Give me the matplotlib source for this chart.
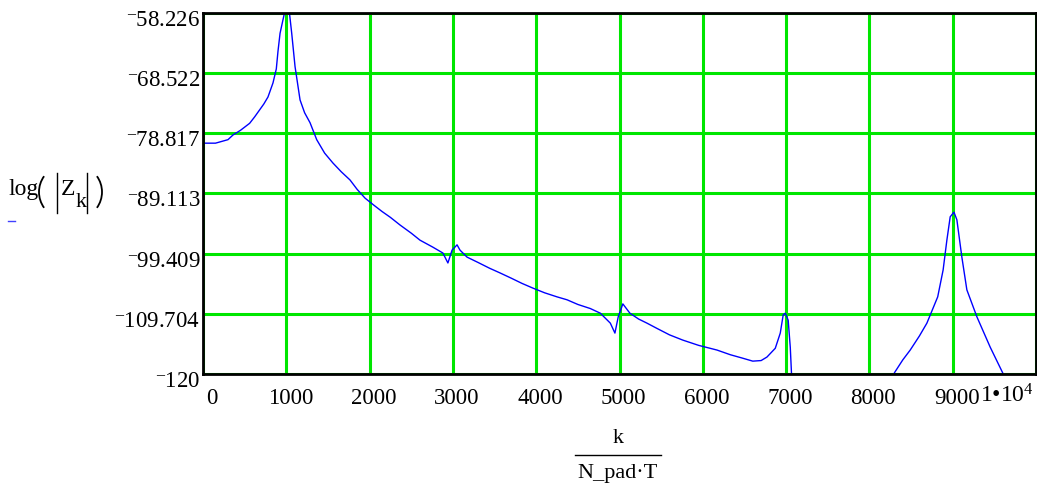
import matplotlib
matplotlib.use('Agg')
import matplotlib.pyplot as plt
from matplotlib.transforms import ScaledTranslation
from matplotlib.lines import Line2D
from matplotlib.patches import Arc

plt.rcParams['font.family'] = ['Liberation Serif', 'DejaVu Serif']
plt.rcParams['mathtext.fontset'] = 'custom'
plt.rcParams['mathtext.rm'] = 'Liberation Serif'
plt.rcParams['mathtext.it'] = 'Liberation Serif:italic'

# spectrum (frequency, log magnitude)
freq = [0, 150, 200, 300, 360, 450, 560, 620, 680, 730, 780, 840, 880, 900, 925,
        960, 985, 1010, 1040, 1065, 1105, 1165, 1220, 1285, 1365, 1460, 1560,
        1660, 1765, 1850, 1945, 2050, 2150, 2250, 2365, 2500, 2605, 2760, 2880,
        2940, 2990, 3050, 3085, 3170, 3300, 3440, 3565, 3700, 3830, 3960, 4100,
        4250, 4370, 4500, 4650, 4770, 4890, 4945, 4985, 5040, 5125, 5230, 5330,
        5450, 5600, 5760, 5950, 6170, 6330, 6480, 6600, 6700, 6770, 6870, 6930,
        6965, 6990, 7025, 7050, 7075, 8290, 8300, 8400, 8490, 8600, 8690, 8820,
        8885, 8930, 8970, 9015, 9050, 9110, 9170, 9290, 9450, 9600, 9650]
mag = [-80.5, -80.5, -80.3, -79.9, -79.1, -78.3, -77.1, -76.0, -74.8, -73.8,
       -72.6, -70.2, -67.8, -64.8, -61.7, -59.4, -57.8, -57.6, -58.5, -61.7,
       -67.4, -73.1, -75.3, -77.0, -79.9, -82.2, -83.9, -85.4, -86.8, -88.4,
       -89.9, -91.1, -92.2, -93.2, -94.5, -95.9, -97.1, -98.3, -99.3, -101.0,
       -98.8, -97.9, -98.8, -100.0, -100.9, -101.9, -102.7, -103.6, -104.5,
       -105.3, -106.1, -106.8, -107.3, -108.1, -108.8, -109.6, -111.3, -113.0,
       -110.2, -108.0, -109.6, -110.6, -111.3, -112.2, -113.3, -114.2, -115.1,
       -115.9, -116.7, -117.3, -117.8, -117.7, -117.1, -115.6, -113.0, -109.9,
       -109.6, -110.8, -115.4, -123, -123, -119.8, -117.6, -115.9, -113.5,
       -111.3, -106.8, -102.2, -97.1, -93.1, -92.3, -93.6, -100.0, -105.6,
       -110.2, -115.4, -119.8, -123]

yticks = [-120, -109.704, -99.409, -89.113, -78.817, -68.522, -58.226]
ytick_labels = ['120', '109.704', '99.409', '89.113', '78.817', '68.522', '58.226']
xticks = [0, 1000, 2000, 3000, 4000, 5000, 6000, 7000, 8000, 9000, 10000]
xtick_labels = ['0', '1000', '2000', '3000', '4000', '5000', '6000', '7000',
                '8000', '9000', '1\u202210$^{4}$']

fig = plt.figure(figsize=(10.37, 4.86), dpi=100)
ax = fig.add_axes([203/1037, 112/486, 833/1037, 361/486])

ax.plot(freq, mag, color='#0000ff', lw=1.0, zorder=3)
ax.set_xlim(0, 10000)
ax.set_ylim(-120, -58.226)

# Mathcad draws the minus sign raised, like a superscript bar
minus = '$^{\\mathrm{\u2013}}$'
ax.set_xticks(xticks)
ax.set_xticklabels(xtick_labels, fontsize=16.5)
ax.set_yticks(yticks)
ax.set_yticklabels([minus + s for s in ytick_labels], fontsize=16.5)
ax.tick_params(length=0)
ax.tick_params(axis='y', pad=2)
ax.tick_params(axis='x', pad=10)
ax.grid(True, color='#00e600', lw=2.2, zorder=1)
ax.set_axisbelow(True)
for sp in ax.spines.values():
    sp.set_linewidth(2)
    sp.set_color('black')
    sp.set_zorder(4)

for lab in ax.get_yticklabels():
    lab.set_transform(lab.get_transform() + ScaledTranslation(0, -0.05, fig.dpi_scale_trans))
xl = ax.get_xticklabels()
for lab in xl[:-1]:
    lab.set_transform(lab.get_transform() + ScaledTranslation(0.04, 0, fig.dpi_scale_trans))
xl[0].set_transform(xl[0].get_transform() + ScaledTranslation(0.05, 0, fig.dpi_scale_trans))
xl[-1].set_ha('right')
xl[-1].set_fontsize(17)
xl[-1].set_transform(xl[-1].get_transform() + ScaledTranslation(-0.02, 0.035, fig.dpi_scale_trans))


def px(x, y):
    return x / 1037, 1 - y / 486


# y label (Mathcad style): log ( |Z_k| ) with the little blue marker below it
fig.text(*px(8, 195), 'log', ha='left', va='baseline', fontsize=17)
fig.add_artist(Arc(px(66, 192), 54/1037, 54/486, theta1=123, theta2=237,
                   transform=fig.transFigure, color='black', lw=1.3))
fig.add_artist(Arc(px(75, 192), 54/1037, 54/486, theta1=-57, theta2=57,
                   transform=fig.transFigure, color='black', lw=1.3))
for bx in (57, 87):
    fig.add_artist(Line2D([px(bx, 0)[0]] * 2, [px(0, 173)[1], px(0, 213)[1]], color='black', lw=1))
fig.text(*px(61, 195), 'Z', ha='left', va='baseline', fontsize=17)
fig.text(*px(76, 207), 'k', ha='left', va='baseline', fontsize=16)
fig.add_artist(Line2D([px(8, 0)[0], px(15, 0)[0]], [px(0, 221)[1]] * 2, color='#4040ff', lw=1))

# x label as a fraction
fig.text(*px(618, 438), 'k', ha='center', va='center', fontsize=16)
fig.add_artist(Line2D([px(575, 0)[0], px(661, 0)[0]], [px(0, 455)[1]] * 2, color='black', lw=1))
fig.text(*px(617, 473), 'N_pad\u00b7T', ha='center', va='center', fontsize=16)

fig.savefig('out.png', dpi=100)
